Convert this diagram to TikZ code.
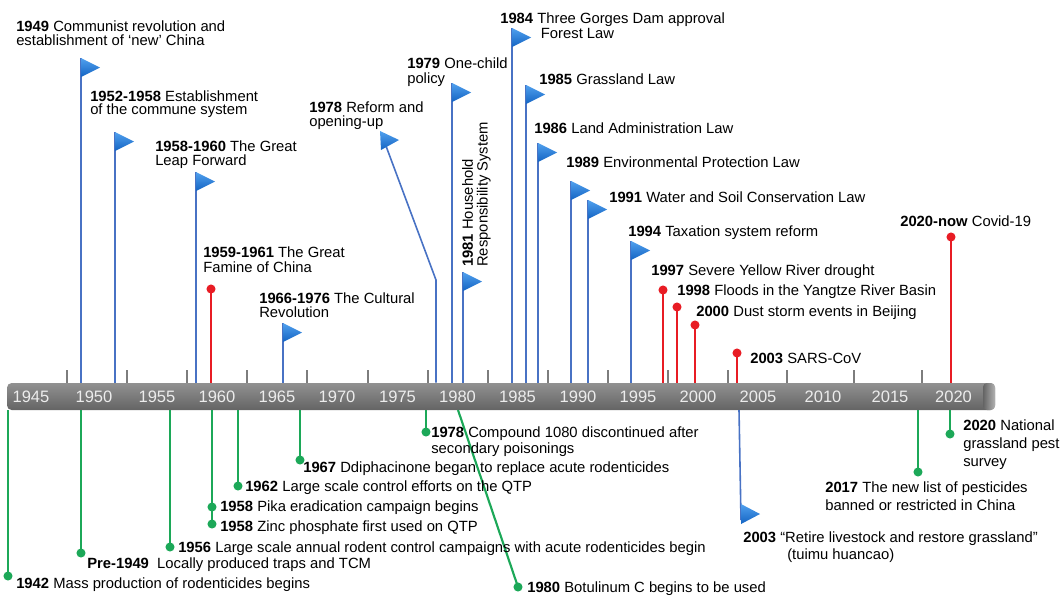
\documentclass[tikz,border=0pt]{standalone}
\usepackage{fontspec}
\setmainfont{Liberation Sans}
\usetikzlibrary{calc}
\definecolor{poleblue}{RGB}{72,114,196}
\definecolor{flagA}{RGB}{80,160,238}
\definecolor{flagB}{RGB}{20,100,195}
\definecolor{pinred}{RGB}{232,28,36}
\definecolor{pingreen}{RGB}{28,168,88}
\definecolor{barA}{RGB}{145,145,145}
\definecolor{barB}{RGB}{100,100,100}
\definecolor{tickgray}{RGB}{125,125,125}
\definecolor{yeartxt}{RGB}{236,236,236}
\begin{document}
\begin{tikzpicture}[x=0.75pt,y=-0.75pt,
  lbl/.style={anchor=north west, inner sep=0pt, align=left, font=\fontsize{11.1}{10.2}\selectfont},
  pole/.style={draw=poleblue, line width=1.2pt},
  flagshape/.style={top color=flagA, bottom color=flagB},
  redpin/.style={circle, fill=pinred, inner sep=0pt, minimum size=6.8pt},
  redline/.style={draw=pinred, line width=1.7pt},
  greenpin/.style={circle, fill=pingreen, inner sep=0pt, minimum size=6.8pt},
  greenline/.style={draw=pingreen, line width=1.6pt},
  yeartick/.style={draw=tickgray, line width=1.5pt},
  yearlbl/.style={text=yeartxt, inner sep=0pt, font=\fontsize{12.4}{12.4}\selectfont},
  timebar/.style={rounded corners=3.5pt, top color=barA, bottom color=barB, minimum width=741pt, minimum height=20.25pt, inner sep=0pt}
]
\useasboundingbox (0,0) rectangle (1062,596);

% ticks
\foreach \tx in {67,127,187,247,307,368,428,488,548,608,668,728,787,854,922}
  \draw[yeartick] (\tx,370) -- (\tx,383);

% bar
\node[timebar] (bar) at (501,396.5) {};
\shade[left color=barB, right color=barA!70!white, rounded corners=3pt] (983,383) -- (995,383) -- (995,410) -- (983,410) -- cycle;

% year labels
\foreach \yx/\yt in {31/1945,94/1950,157/1955,217/1960,277/1965,337/1970,397.5/1975,457.5/1980,517.5/1985,578/1990,638/1995,698/2000,758/2005,823/2010,890/2015,953.5/2020}
  \node[yearlbl] (y\yt) at (\yx,397) {\yt};

% blue flags (upper)
\coordinate (f1949) at (81,58);
\coordinate (f1952) at (115,132);
\coordinate (f1958) at (196,172);
\coordinate (f1966) at (283,323);
\coordinate (f1979) at (452,83);
\coordinate (f1981) at (463,272);
\coordinate (f1984) at (512,28);
\coordinate (f1985) at (526,85);
\coordinate (f1986) at (538,143);
\coordinate (f1989) at (571,181);
\coordinate (f1991) at (588,200);
\coordinate (f1994) at (631,241);
\foreach \f in {f1949,f1952,f1958,f1966,f1979,f1981,f1984,f1985,f1986,f1989,f1991,f1994}{
  \draw[pole] (\f |- bar.north) -- (\f);
  \shade[flagshape] (\f) -- ++(19,9.5) -- ++(-19,9.5) -- cycle;
}
% 1978 bent pole
\coordinate (f1978) at (380,131);
\coordinate (k1978) at (436,280);
\coordinate (t1978) at (386,146);
\draw[pole] (k1978 |- bar.north) -- (k1978) -- (t1978);
\shade[flagshape] (f1978) -- ++(19,9) -- ++(-18,10) -- cycle;
% 2003 lower flag
\coordinate (s2003) at (739,410);
\coordinate (f2003) at (741,504);
\coordinate (p2003) at (741,520);
\draw[pole] (s2003) -- (p2003);
\shade[flagshape] (f2003) -- ++(19,10) -- ++(-19,10) -- cycle;

% red pins
\node[redpin] (r1960) at (211,289) {};
\node[redpin] (r1997) at (663,290) {};
\node[redpin] (r1998) at (677,307) {};
\node[redpin] (r2000) at (695,325) {};
\node[redpin] (r2003) at (737,353) {};
\node[redpin] (r2020) at (951,237) {};
\foreach \r in {r1960,r1997,r1998,r2000,r2003,r2020}
  \draw[redline] (\r |- bar.north) -- (\r.center);

% green pins
\node[greenpin] (g1942) at (8,576) {};
\node[greenpin] (gpre) at (81,553) {};
\node[greenpin] (g1956) at (170,547) {};
\node[greenpin] (g1958z) at (212,524) {};
\node[greenpin] (g1958p) at (212,507) {};
\node[greenpin] (g1962) at (238,486) {};
\node[greenpin] (g1967) at (300,460) {};
\node[greenpin] (g1978) at (426,432) {};
\node[greenpin] (g2017) at (918,472) {};
\node[greenpin] (g2020) at (950,434) {};
\node[greenpin] (g1980) at (518,587) {};
\foreach \g in {g1942,gpre,g1956,g1958z,g1962,g1967,g1978,g2017,g2020}
  \draw[greenline] (\g |- bar.south) -- (\g.center);
\coordinate (s1980) at (458,410);
\draw[greenline] (s1980) -- (g1980.center);

% upper labels
\node[lbl, font=\fontsize{11.1}{10.5}\selectfont] (l1949) at (16,21) {\textbf{1949} Communist revolution and\\establishment of ‘new’ China};
\node[lbl, font=\fontsize{11.1}{9.6}\selectfont] (l1952) at (90,91) {\textbf{1952-1958} Establishment\\of the commune system};
\node[lbl] (l1958) at (155,141) {\textbf{1958-1960} The Great\\Leap Forward};
\node[lbl, font=\fontsize{11.1}{11}\selectfont] (l1959) at (203,247) {\textbf{1959-1961} The Great\\Famine of China};
\node[lbl] (l1966) at (259,293) {\textbf{1966-1976} The Cultural\\Revolution};
\node[lbl] (l1978) at (309,102) {\textbf{1978} Reform and\\opening-up};
\node[lbl, font=\fontsize{11.1}{10.8}\selectfont] (l1979) at (407,58) {\textbf{1979} One-child\\policy};
\node[lbl, rotate=90, font=\fontsize{11.1}{11}\selectfont] (l1981) at (462,267) {\textbf{1981} Household\\Responsibility System};
\node[lbl, font=\fontsize{11.1}{9.8}\selectfont] (l1984) at (500,13) {\textbf{1984} Three Gorges Dam approval\\\hspace*{30.5pt}Forest Law};
\node[lbl] (l1985) at (539,74) {\textbf{1985} Grassland Law};
\node[lbl] (l1986) at (534,123) {\textbf{1986} Land Administration Law};
\node[lbl] (l1989) at (566,157) {\textbf{1989} Environmental Protection Law};
\node[lbl] (l1991) at (609,192) {\textbf{1991} Water and Soil Conservation Law};
\node[lbl] (l1994) at (628,226) {\textbf{1994} Taxation system reform};
\node[lbl] (l1997) at (651,265) {\textbf{1997} Severe Yellow River drought};
\node[lbl] (l1998) at (677,285) {\textbf{1998} Floods in the Yangtze River Basin};
\node[lbl] (l2000) at (696,306) {\textbf{2000} Dust storm events in Beijing};
\node[lbl] (l2003s) at (750,353) {\textbf{2003} SARS-CoV};
\node[lbl] (l2020n) at (900,216) {\textbf{2020-now} Covid-19};

% lower labels
\node[lbl] (l1942) at (16,577) {\textbf{1942} Mass production of rodenticides begins};
\node[lbl] (lpre) at (87,557) {\textbf{Pre-1949}\ \ Locally produced traps and TCM};
\node[lbl] (l1956) at (178,541) {\textbf{1956} Large scale annual rodent control campaigns with acute rodenticides begin};
\node[lbl] (l1958z) at (220,520) {\textbf{1958} Zinc phosphate first used on QTP};
\node[lbl] (l1958p) at (220,501) {\textbf{1958} Pika eradication campaign begins};
\node[lbl] (l1962) at (245,481) {\textbf{1962} Large scale control efforts on the QTP};
\node[lbl] (l1967) at (303,462) {\textbf{1967} Ddiphacinone began to replace acute rodenticides};
\node[lbl, font=\fontsize{11.1}{12}\selectfont] (l1978c) at (431,427) {\textbf{1978} Compound 1080 discontinued after\\secondary poisonings};
\node[lbl] (l1980) at (527,581) {\textbf{1980} Botulinum C begins to be used};
\node[lbl, font=\fontsize{11.1}{13.5}\selectfont] (l2017) at (825,482) {\textbf{2017} The new list of pesticides\\banned or restricted in China};
\node[lbl, font=\fontsize{11.1}{13.5}\selectfont] (l2020g) at (963,420) {\textbf{2020} National\\grassland pest\\survey};
\node[lbl, font=\fontsize{11.1}{12.75}\selectfont] (l2003r) at (743,531) {\textbf{2003} “Retire livestock and restore grassland”\\\hspace*{33pt}(tuimu huancao)};
\end{tikzpicture}
\end{document}
